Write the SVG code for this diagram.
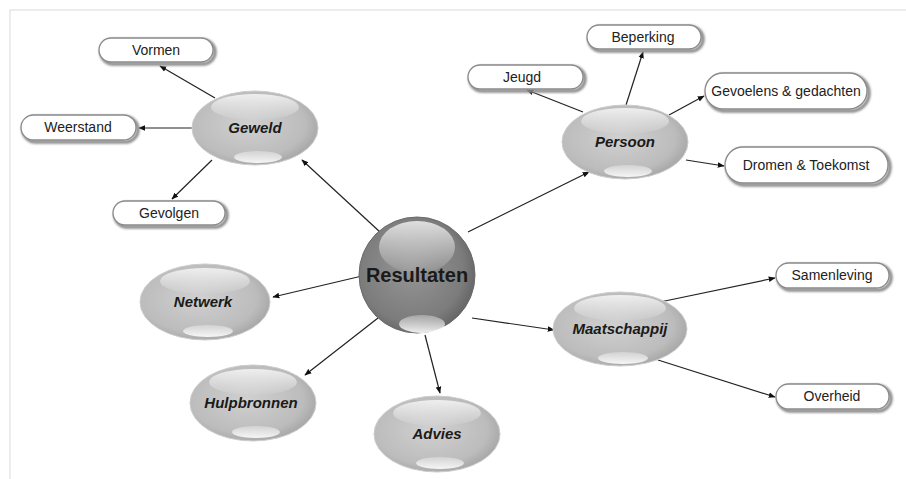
<svg xmlns="http://www.w3.org/2000/svg" width="906" height="479" viewBox="0 0 906 479">
<defs>
<radialGradient id="eg" cx="0.45" cy="0.45" r="0.6">
<stop offset="0" stop-color="#d0d0d0"/>
<stop offset="0.75" stop-color="#bcbcbc"/>
<stop offset="1" stop-color="#a2a2a2"/>
</radialGradient>
<radialGradient id="sg" cx="0.45" cy="0.45" r="0.6">
<stop offset="0" stop-color="#959595"/>
<stop offset="0.75" stop-color="#7c7c7c"/>
<stop offset="1" stop-color="#606060"/>
</radialGradient>
<linearGradient id="gloss" x1="0" y1="0" x2="0" y2="1">
<stop offset="0" stop-color="#ffffff" stop-opacity="0.75"/>
<stop offset="1" stop-color="#ffffff" stop-opacity="0.05"/>
</linearGradient>
<linearGradient id="low" x1="0" y1="0" x2="0" y2="1">
<stop offset="0" stop-color="#ffffff" stop-opacity="0.3"/>
<stop offset="1" stop-color="#ffffff" stop-opacity="0.9"/>
</linearGradient>
<filter id="sh" x="-20%" y="-40%" width="140%" height="180%">
<feGaussianBlur stdDeviation="1.2"/>
</filter>
<marker id="ar" viewBox="0 0 10 10" refX="9" refY="5" markerWidth="7" markerHeight="7" orient="auto" markerUnits="userSpaceOnUse">
<path d="M0,1 L10,5 L0,9 z" fill="#111"/>
</marker>
</defs>
<style>
.frame{stroke:#e6e6e6;stroke-width:1.5;fill:none}
.ell{fill:url(#eg);stroke:#cccccc;stroke-width:1}
.gl{fill:url(#gloss)}
.lo{fill:url(#low)}
.lbl{font-family:"Liberation Sans",Arial,sans-serif;font-size:15px;font-weight:bold;font-style:italic;fill:#1a1a1a;text-anchor:middle}
.big{font-family:"Liberation Sans",Arial,sans-serif;font-size:20px;font-weight:bold;fill:#1a1a1a;text-anchor:middle}
.box{fill:#ffffff;stroke:#8a8a8a;stroke-width:1.3}
.bsh{fill:none;stroke:#8c8c8c;stroke-width:3.5;filter:url(#sh)}
.bt{font-family:"Liberation Sans",Arial,sans-serif;font-size:14px;fill:#222;text-anchor:middle}
.con{stroke:#222;stroke-width:1.2;fill:none;marker-end:url(#ar)}
</style>
<rect width="906" height="479" fill="#ffffff"/>
<path class="frame" d="M10,479 V10 H906"/>

<g id="connectors">
<line class="con" x1="380" y1="232" x2="302" y2="160"/>
<line class="con" x1="468" y1="232" x2="589" y2="172"/>
<line class="con" x1="362" y1="276" x2="273" y2="297"/>
<line class="con" x1="378" y1="318" x2="305" y2="375"/>
<line class="con" x1="425" y1="335" x2="440" y2="393"/>
<line class="con" x1="472" y1="318" x2="554" y2="330"/>
<line class="con" x1="215" y1="98" x2="160" y2="66"/>
<line class="con" x1="193" y1="128" x2="139" y2="128"/>
<line class="con" x1="212" y1="160" x2="172" y2="199"/>
<line class="con" x1="583" y1="112" x2="527" y2="90"/>
<line class="con" x1="626" y1="105" x2="643" y2="52"/>
<line class="con" x1="669" y1="115" x2="704" y2="96"/>
<line class="con" x1="686" y1="160" x2="724" y2="166"/>
<line class="con" x1="660" y1="302" x2="775" y2="278"/>
<line class="con" x1="658" y1="360" x2="775" y2="397"/>
</g>

<g id="n-resultaten">
<circle cx="417" cy="275" r="58" fill="url(#sg)" stroke="#6a6a6a" stroke-width="1"/>
<ellipse class="gl" cx="417" cy="247" rx="38" ry="26"/>
<ellipse class="lo" cx="422" cy="324" rx="23" ry="9"/>
<text class="big" x="417" y="282">Resultaten</text>
</g>

<g id="n-geweld">
<ellipse class="ell" cx="255" cy="128" rx="63" ry="37"/>
<ellipse class="gl" cx="255" cy="107" rx="44" ry="13"/>
<ellipse class="lo" cx="258" cy="157" rx="24" ry="6"/>
<text class="lbl" x="255" y="133">Geweld</text>
</g>

<g id="n-persoon">
<ellipse class="ell" cx="625" cy="142" rx="63" ry="37"/>
<ellipse class="gl" cx="625" cy="121" rx="44" ry="13"/>
<ellipse class="lo" cx="628" cy="171" rx="24" ry="6"/>
<text class="lbl" x="625" y="147">Persoon</text>
</g>

<g id="n-netwerk">
<ellipse class="ell" cx="205" cy="302" rx="65" ry="38"/>
<ellipse class="gl" cx="205" cy="281" rx="45" ry="13"/>
<ellipse class="lo" cx="208" cy="331" rx="25" ry="6"/>
<text class="lbl" x="203" y="307">Netwerk</text>
</g>

<g id="n-hulpbronnen">
<ellipse class="ell" cx="253" cy="403" rx="63" ry="38"/>
<ellipse class="gl" cx="253" cy="382" rx="44" ry="13"/>
<ellipse class="lo" cx="256" cy="432" rx="24" ry="6"/>
<text class="lbl" x="251" y="408">Hulpbronnen</text>
</g>

<g id="n-advies">
<ellipse class="ell" cx="437" cy="434" rx="63" ry="38"/>
<ellipse class="gl" cx="437" cy="413" rx="44" ry="13"/>
<ellipse class="lo" cx="440" cy="463" rx="24" ry="6"/>
<text class="lbl" x="437" y="439">Advies</text>
</g>

<g id="n-maatschappij">
<ellipse class="ell" cx="620" cy="329" rx="67" ry="37"/>
<ellipse class="gl" cx="620" cy="308" rx="46" ry="13"/>
<ellipse class="lo" cx="623" cy="358" rx="25" ry="6"/>
<text class="lbl" x="620" y="334">Maatschappij</text>
</g>

<g id="b-vormen">
<rect class="bsh" x="101" y="40" width="114" height="24" rx="12"/>
<rect class="box" x="99" y="38" width="114" height="24" rx="12"/>
<text class="bt" x="156" y="55">Vormen</text>
</g>
<g id="b-weerstand">
<rect class="bsh" x="23" y="117" width="115" height="25" rx="12.5"/>
<rect class="box" x="21" y="115" width="115" height="25" rx="12.5"/>
<text class="bt" x="78" y="132">Weerstand</text>
</g>
<g id="b-gevolgen">
<rect class="bsh" x="115" y="203" width="112" height="24" rx="12"/>
<rect class="box" x="113" y="201" width="112" height="24" rx="12"/>
<text class="bt" x="169" y="218">Gevolgen</text>
</g>
<g id="b-jeugd">
<rect class="bsh" x="470" y="67" width="115" height="24" rx="12"/>
<rect class="box" x="468" y="65" width="115" height="24" rx="12"/>
<text class="bt" x="522" y="82">Jeugd</text>
</g>
<g id="b-beperking">
<rect class="bsh" x="589" y="27" width="114" height="24" rx="12"/>
<rect class="box" x="587" y="25" width="114" height="24" rx="12"/>
<text class="bt" x="643" y="42">Beperking</text>
</g>
<g id="b-gevoelens">
<rect class="bsh" x="707" y="75" width="162" height="36" rx="18"/>
<rect class="box" x="705" y="73" width="162" height="36" rx="18"/>
<text class="bt" x="786" y="96">Gevoelens &amp; gedachten</text>
</g>
<g id="b-dromen">
<rect class="bsh" x="727" y="149" width="163" height="36" rx="18"/>
<rect class="box" x="725" y="147" width="163" height="36" rx="18"/>
<text class="bt" x="806" y="170">Dromen &amp; Toekomst</text>
</g>
<g id="b-samenleving">
<rect class="bsh" x="778" y="265" width="113" height="25" rx="12.5"/>
<rect class="box" x="776" y="263" width="113" height="25" rx="12.5"/>
<text class="bt" x="832" y="280">Samenleving</text>
</g>
<g id="b-overheid">
<rect class="bsh" x="778" y="386" width="113" height="25" rx="12.5"/>
<rect class="box" x="776" y="384" width="113" height="25" rx="12.5"/>
<text class="bt" x="832" y="401">Overheid</text>
</g>
</svg>
